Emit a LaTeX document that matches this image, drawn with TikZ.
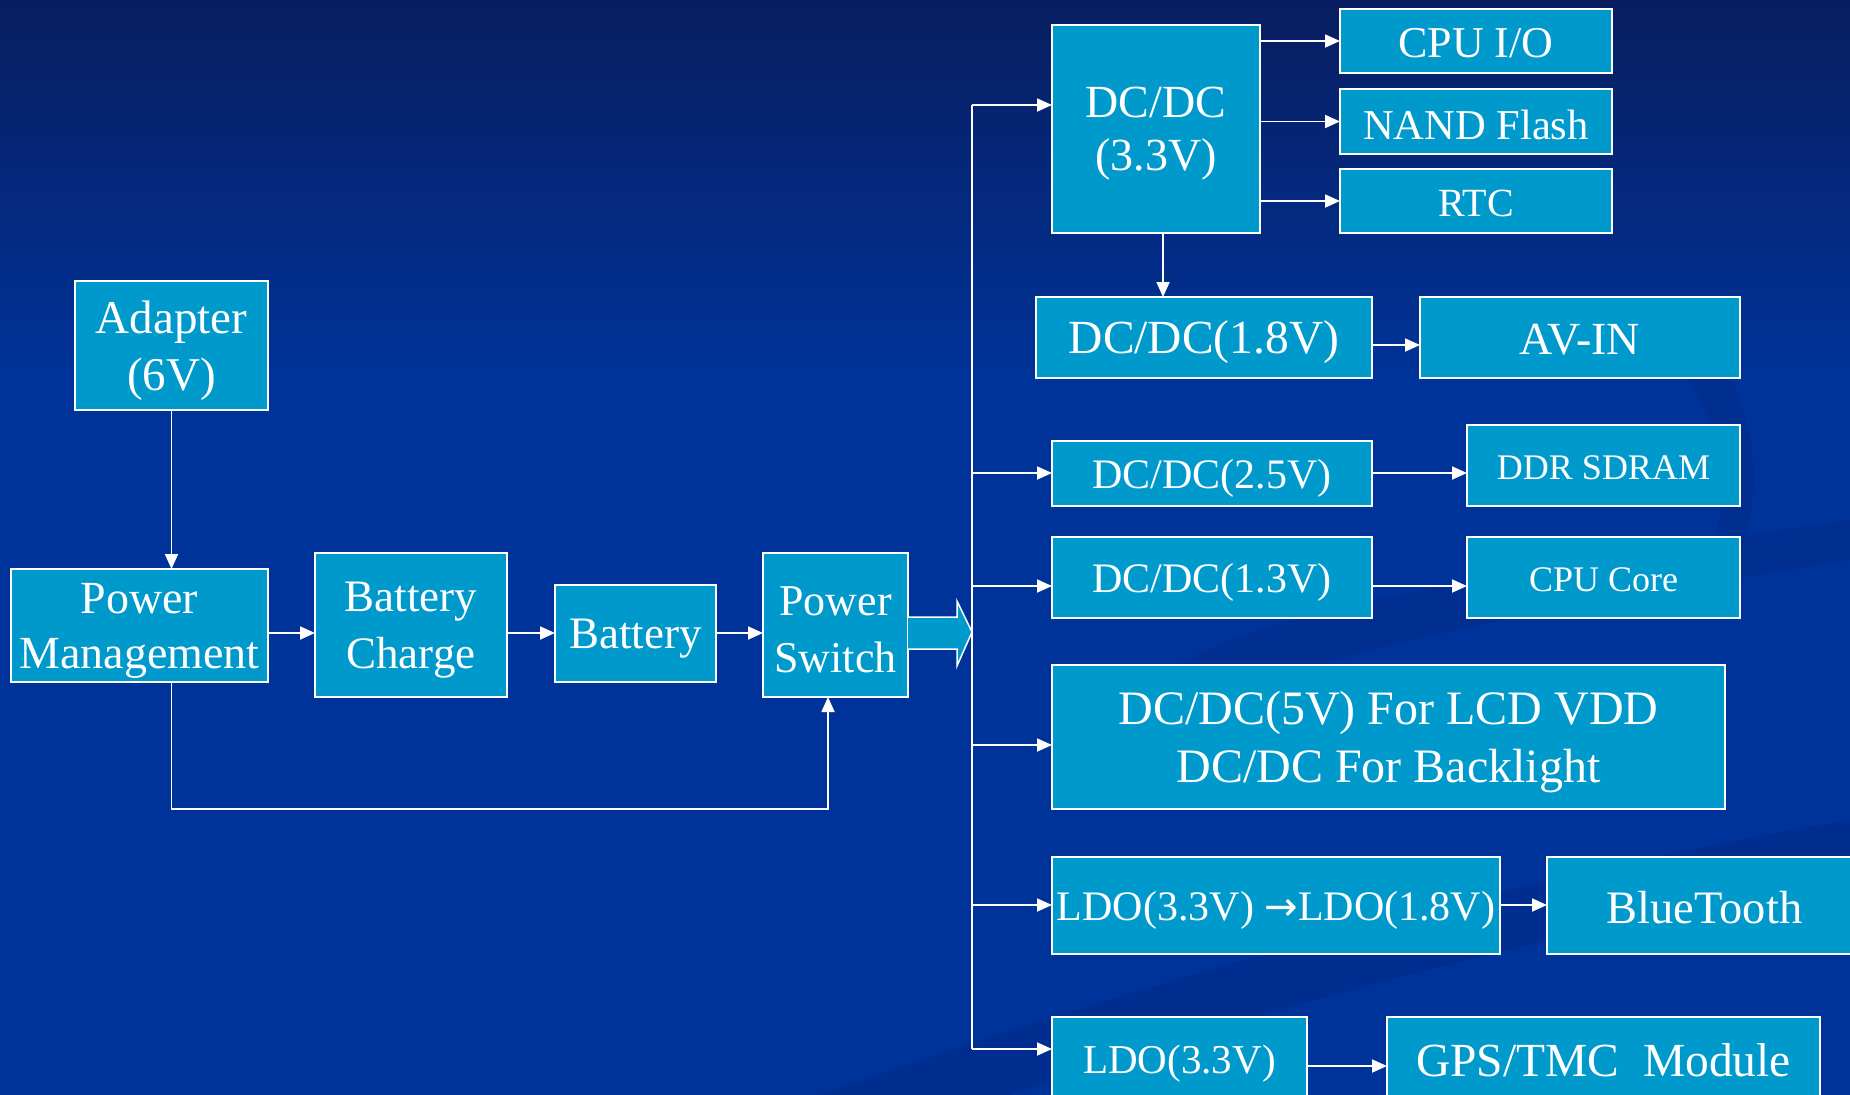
\documentclass[tikz,border=0pt]{standalone}
\usepackage{fontspec}
\setmainfont{Liberation Serif}
\newfontfamily\arrowfont{DejaVu Sans}
\usetikzlibrary{arrows.meta,calc}
\definecolor{boxc}{RGB}{0,153,204}
\definecolor{bgtop}{RGB}{8,30,96}
\definecolor{bgbot}{RGB}{0,51,153}
\definecolor{swirl}{RGB}{0,44,138}
\newcommand\fs[2]{\fontsize{#1pt}{#2pt}\selectfont}
\tikzset{
  blk/.style={draw=white, line width=1.8pt, fill=boxc, inner sep=0pt,
              outer sep=0pt, anchor=north west},
  txt/.style={text=white, inner sep=0pt, align=center},
  wire/.style={draw=white, line width=1.8pt},
  arr/.style={wire, -{Triangle[length=15pt,width=13pt]}},
}
\newcommand\mybox[9]{\node[blk, minimum width={(#4-#2)*1pt}, minimum height={(#5-#3)*1pt}]
  (#1) at (#2,#3) {};
  \node[txt, font=\fs{#6}{#7}] (#1-t) at ([yshift=-#9pt]#1.center) {#8};}
\begin{document}
\begin{tikzpicture}[x=1pt,y=-1pt]
% background
\fill[bgbot] (0,0) rectangle (1850,1095);
\shade[top color=bgtop, bottom color=bgbot] (0,0) rectangle (1850,380);
\useasboundingbox (0,0) rectangle (1850,1095);
% faint swirls
\fill[swirl, opacity=0.6] (820,1095) .. controls (1200,960) and (1600,860) .. (1850,820)
  -- (1850,880) .. controls (1600,920) and (1250,1010) .. (1010,1095) -- cycle;
\fill[swirl, opacity=0.5] (1100,760) .. controls (1120,640) and (1300,600) .. (1850,520)
  -- (1850,560) .. controls (1350,640) and (1180,680) .. (1160,790) -- cycle;
\fill[swirl, opacity=0.5] (1660,300) .. controls (1760,360) and (1790,520) .. (1700,620)
  -- (1680,600) .. controls (1750,520) and (1730,400) .. (1640,330) -- cycle;

% left chain
\mybox{adapter}{75}{281}{268}{410}{47}{57}{Adapter\\(6V)}{5}
\mybox{pm}{11}{569}{268}{682}{46}{55}{Power\\Management}{5}
\mybox{bc}{315}{553}{507}{697}{45}{57}{Battery\\ Charge}{5}
\mybox{bat}{555}{585}{716}{682}{45}{54}{Battery}{5}
\mybox{psw}{763}{553}{908}{697}{44}{57}{Power\\Switch}{5}

% right column
\mybox{dc33}{1052}{25}{1260}{233}{46}{53}{DC/DC\\(3.3V)}{5}
\mybox{cpuio}{1340}{9}{1612}{73}{44}{50}{CPU I/O}{2}
\mybox{nand}{1340}{89}{1612}{154}{42.5}{50}{NAND Flash}{3}
\mybox{rtc}{1340}{169}{1612}{233}{40}{48}{RTC}{2}
\mybox{dc18}{1036}{297}{1372}{378}{47.5}{55}{DC/DC(1.8V)}{5}
\mybox{avin}{1420}{297}{1740}{378}{46}{55}{AV-IN}{2}
\mybox{dc25}{1052}{441}{1372}{506}{42}{50}{DC/DC(2.5V)}{5}
\mybox{ddr}{1467}{425}{1740}{506}{36}{44}{DDR SDRAM}{2}
\mybox{dc13}{1052}{537}{1372}{618}{42}{50}{DC/DC(1.3V)}{5}
\mybox{core}{1467}{537}{1740}{618}{36}{44}{CPU Core}{2}
\mybox{lcd}{1052}{665}{1725}{809}{48}{58}{DC/DC(5V) For LCD VDD\\DC/DC For Backlight}{5}
\mybox{ldo}{1052}{857}{1500}{954}{42}{52}{LDO(3.3V) {\arrowfont\fontsize{40pt}{40pt}\selectfont →}LDO(1.8V)}{5}
\mybox{bt}{1547}{857}{1862}{954}{46.5}{55}{BlueTooth}{2}
\mybox{ldob}{1052}{1017}{1307}{1100}{41}{50}{LDO(3.3V)}{5}
\mybox{gps}{1387}{1017}{1820}{1100}{47.5}{55}{GPS/TMC\ \ Module}{2}

% block arrow from power switch to bus
\draw[fill=boxc, draw=white, line width=1.5pt] (908,617) -- (957,617) -- (957,601)
  -- (972,632) -- (957,666) -- (957,649) -- (908,649);

% left connectors
\coordinate (row) at (0,633);
\coordinate (loopx) at (828,809);
\draw[arr] (adapter.south) -- (adapter.south |- pm.north);
\draw[arr] (pm.east |- row) -- (bc.west |- row);
\draw[arr] (bc.east |- row) -- (bat.west |- row);
\draw[arr] (bat.east |- row) -- (psw.west |- row);
\draw[arr] (pm.south -| adapter.south) |- (loopx) -- (psw.south -| loopx);

% bus
\coordinate (b1) at (972,105);
\coordinate (b2) at (972,473);
\coordinate (b3) at (972,586);
\coordinate (b4) at (972,745);
\coordinate (b5) at (972,905);
\coordinate (b6) at (972,1049);
\draw[wire] (b1) -- (b6);
\draw[arr] (b1) -- (dc33.west |- b1);
\draw[arr] (b2) -- (dc25.west |- b2);
\draw[arr] (b3) -- (dc13.west |- b3);
\draw[arr] (b4) -- (lcd.west |- b4);
\draw[arr] (b5) -- (ldo.west |- b5);
\draw[arr] (b6) -- (ldob.west |- b6);

% right connectors
\draw[arr] (dc33.east |- cpuio.west) -- (cpuio.west);
\draw[arr] (dc33.east |- nand.west) -- (nand.west);
\draw[arr] (dc33.east |- rtc.west) -- (rtc.west);
\coordinate (dnx) at (1163,0);
\draw[arr] (dc33.south -| dnx) -- (dc18.north -| dnx);
\coordinate (y18) at (0,345);
\draw[arr] (dc18.east |- y18) -- (avin.west |- y18);
\draw[arr] (dc25.east |- b2) -- (ddr.west |- b2);
\draw[arr] (dc13.east |- b3) -- (core.west |- b3);
\draw[arr] (ldo.east |- b5) -- (bt.west |- b5);
\coordinate (ygps) at (0,1066);
\draw[arr] (ldob.east |- ygps) -- (gps.west |- ygps);
\end{tikzpicture}
\end{document}
